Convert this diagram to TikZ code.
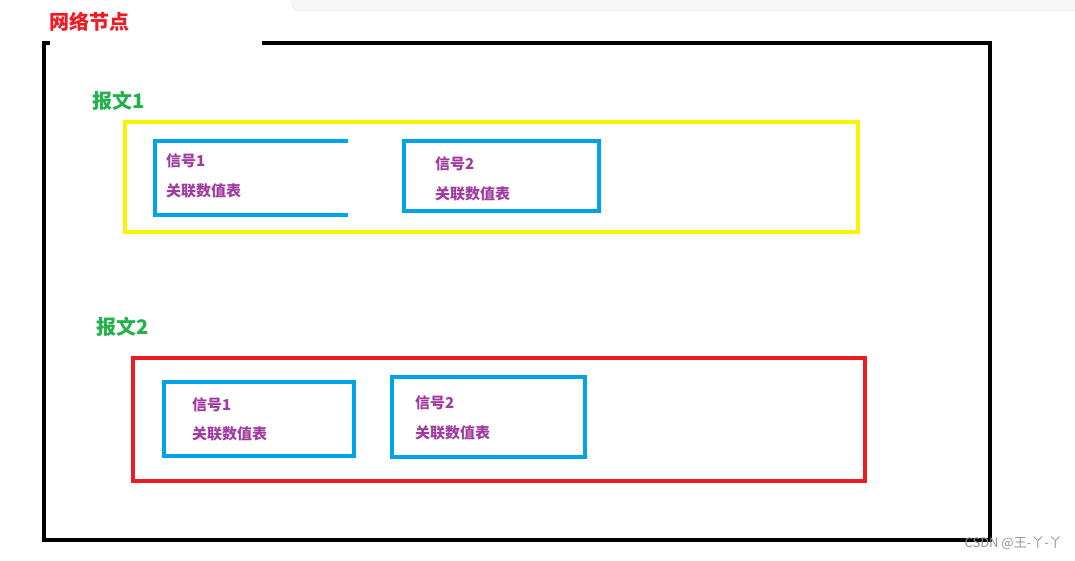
\documentclass[tikz,border=0pt]{standalone}
\usepackage{fontspec}
\newfontfamily\cjk{Noto Sans CJK SC}
\begin{document}
\begin{tikzpicture}[x=1pt,y=-1pt,
  frame/.style={line width=4.5pt},
  lbl/.style={font=\cjk\bfseries\fontsize{20}{22}\selectfont, anchor=west, inner sep=0},
  sig/.style={font=\cjk\bfseries\fontsize{15}{17}\selectfont, text=sigc, anchor=west, inner sep=0},
  box/.style={line width=3.5pt, draw=bluec}]
\definecolor{bluec}{HTML}{00A2E8}
\definecolor{sigc}{HTML}{A03CA0}
\definecolor{greenc}{HTML}{22B14C}
\definecolor{redc}{HTML}{ED1C24}
\definecolor{yelc}{HTML}{FFF200}
\useasboundingbox (0,0) rectangle (1075,561);
\fill[white] (0,0) rectangle (1075,561);
\draw[gray!25, fill=gray!6, rounded corners=8pt] (292,-12) rectangle (1085,11);
% black frame
\draw[frame] (262,43) -- (990,43) -- (990,540) -- (44,540) -- (44,43) -- (50,43);
\node[lbl, text=redc] (t0) at (49,22) {网络节点};
% message 1
\node[lbl, text=greenc] (m1) at (92,101) {报文1};
\draw[line width=4pt, draw=yelc] (125,122) rectangle (858,232);
\draw[box] (348,141) -- (155,141) -- (155,215) -- (348,215);
\node[sig] (s1) at (166,161) {信号1};
\node[sig] (s1b) at (166,191) {关联数值表};
\draw[box] (404,141) rectangle (599,211);
\node[sig] (s2) at (435,164) {信号2};
\node[sig] (s2b) at (435,194) {关联数值表};
% message 2
\node[lbl, text=greenc] (m2) at (96,327) {报文2};
\draw[line width=4pt, draw=redc] (133,358) rectangle (865,481);
\draw[box] (164,382) rectangle (354,456);
\node[sig] (s3) at (192,405) {信号1};
\node[sig] (s3b) at (192,434) {关联数值表};
\draw[box] (392,377) rectangle (585,457);
\node[sig] (s4) at (415,403) {信号2};
\node[sig] (s4b) at (415,433) {关联数值表};
\node[font=\cjk\fontsize{13}{15}\selectfont, text=gray!85, anchor=east, inner sep=0] (wm) at (1062,543) {CSDN @王-丫-丫};
\end{tikzpicture}
\end{document}
